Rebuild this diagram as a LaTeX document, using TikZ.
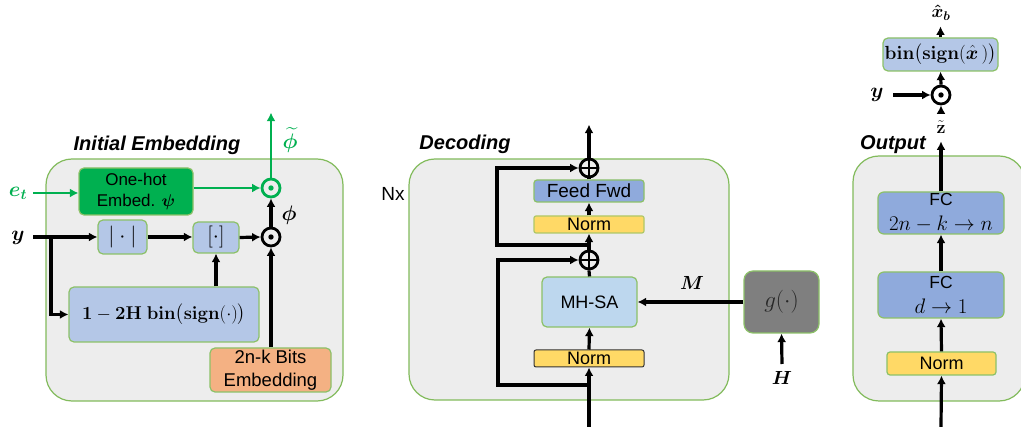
\documentclass[tikz,border=0pt]{standalone}
\usepackage{fix-cm}
\usepackage{amsmath,bm}
\usepackage[no-math]{fontspec}
\setmainfont{Liberation Sans}
\usetikzlibrary{arrows.meta,calc}
\definecolor{bggray}{HTML}{EDEDED}
\definecolor{gborder}{HTML}{8CC168}
\definecolor{fborder}{HTML}{82BB5C}
\definecolor{onehot}{HTML}{00B050}
\definecolor{lblue}{HTML}{B4C7E7}
\definecolor{mhsacol}{HTML}{BDD7EE}
\definecolor{mblue}{HTML}{8FAADC}
\definecolor{yel}{HTML}{FFD966}
\definecolor{orng}{HTML}{F4B183}
\definecolor{gcol}{HTML}{7F7F7F}
\definecolor{gtext}{HTML}{262626}
\tikzset{
  frame/.style={draw=fborder, line width=1.2pt, fill=bggray, rounded corners=26pt, inner sep=0pt},
  blk/.style={draw=gborder, line width=1.2pt, rounded corners=5pt, inner sep=0pt, align=center, text=black},
  ttl/.style={font=\fontsize{20}{22}\selectfont\bfseries\itshape, inner sep=0pt},
  lbl/.style={font=\fontsize{21}{22}\selectfont, inner sep=0pt},
  arr/.style={line width=3.2pt, -{Latex[length=8.5pt,width=9pt]}},
  ln/.style={line width=3.2pt},
  garr/.style={arr, line width=2.8pt, draw=onehot},
  opc/.style={circle, draw, line width=2.8pt, minimum size=18pt, inner sep=0pt, fill=bggray,
    path picture={\draw[black, line width=2.6pt] (path picture bounding box.north) -- (path picture bounding box.south)
      (path picture bounding box.west) -- (path picture bounding box.east);}},
  odc/.style={circle, draw, line width=2.8pt, minimum size=18pt, inner sep=0pt, fill=bggray,
    path picture={\fill[black] (path picture bounding box.center) circle (2.7pt);}},
}
\begin{document}
\begin{tikzpicture}[x=1pt,y=-1pt]
\useasboundingbox (0,0) rectangle (1021,427);
\clip (0,0) rectangle (1021,427);
\fill[white] (0,0) rectangle (1021,427);
% frames
\node[frame, minimum width=297pt, minimum height=242pt] (ie) at (194.5,280) {};
\node[frame, minimum width=320pt, minimum height=241pt] (dec) at (569,279.5) {};
\node[frame, minimum width=172pt, minimum height=245pt] (out) at (939,278.5) {};
\node[ttl] (tie) at (157,145) {Initial Embedding};
\node[ttl] (tdec) at (465,144) {Decoding};
\node[ttl] (tout) at (893,145) {Output};

% ---------- Initial embedding ----------
\node[blk, fill=onehot, minimum width=114pt, minimum height=47pt, font=\fontsize{17}{21}\selectfont] (oh) at (136,191.5) {One-hot\\Embed. $\bm{\psi}$};
\node[blk, fill=lblue, minimum width=49pt, minimum height=34pt, font=\fontsize{22}{22}\selectfont] (abs) at (122.5,237) {$|\cdot|$};
\node[blk, fill=lblue, minimum width=46pt, minimum height=31pt, font=\fontsize{22}{22}\selectfont] (rnd) at (216,237.5) {$[\cdot]$};
\node[blk, fill=lblue, minimum width=190pt, minimum height=55pt, font=\fontsize{18.5}{20}\selectfont] (hb) at (164,314.5) {$\mathbf{1-2H\;bin}\big(\mathbf{sign}(\cdot)\big)$};
\node[blk, fill=orng, minimum width=121pt, minimum height=44pt, font=\fontsize{18.5}{23}\selectfont] (bits) at (270.5,370) {2n-k Bits\\Embedding};
\node[odc] (od1) at (271,237) {};
\node[odc, draw=onehot, fill=bggray, path picture={\fill[onehot] (path picture bounding box.center) circle (2.7pt);}] (og) at (271,188) {};
\node[lbl, text=onehot] (et) at (18,193) {$\bm{e_t}$};
\node[lbl] (yl) at (18,238) {$\bm{y}$};
\node[lbl] (phi) at (289,215) {$\bm{\phi}$};
\node[lbl, text=onehot] (phit) at (290,140) {$\bm{\widetilde{\phi}}$};
\coordinate (etst) at (33,193);
\coordinate (yst) at (33,237);
\coordinate (ybr) at (51,237);
\draw[garr] (etst) -- (oh.west |- etst);
\draw[arr] (yst) -- (abs.west);
\draw[arr] (ybr) |- (hb.west);
\draw[arr] (abs.east) -- (rnd.west |- abs.east);
\draw[arr] (rnd.east) -- (od1.west);
\draw[arr] (hb.north -| rnd) -- (rnd.south);
\draw[arr] (bits.north -| od1) -- (od1.south);
\draw[arr] (od1.north) -- (og.south);
\draw[garr] (oh.east |- og) -- (og.west);
\draw[garr] (og.north) -- ++(0,-65);

% ---------- Decoding ----------
\node[blk, draw=black!80, line width=1pt, rounded corners=2pt, fill=yel, minimum width=110pt, minimum height=17pt, font=\fontsize{18}{18}\selectfont] (n1) at (589,358.5) {Norm};
\node[blk, fill=mhsacol, minimum width=95pt, minimum height=50pt, font=\fontsize{18}{20}\selectfont] (mh) at (589.5,302) {MH-SA};
\node[opc] (op1) at (589,260) {};
\node[blk, draw=gborder!70!yel, rounded corners=2pt, fill=yel, minimum width=110pt, minimum height=17pt, font=\fontsize{18}{18}\selectfont] (n2) at (589,224.5) {Norm};
\node[blk, fill=mblue, rounded corners=3pt, minimum width=110pt, minimum height=22pt, font=\fontsize{19}{19}\selectfont] (ff) at (589,191) {Feed Fwd};
\node[opc] (op2) at (589,168) {};
\node[font=\fontsize{19}{20}\selectfont, inner sep=0pt] (nx) at (393,194) {Nx};
\node[blk, fill=gcol, rounded corners=9pt, minimum width=75pt, minimum height=62pt, font=\fontsize{23}{24}\selectfont, text=gtext] (g) at (781.5,302) {$g(\cdot)$};
\node[lbl, font=\fontsize{19}{20}\selectfont] (ml) at (692,283) {$\bm{M}$};
\node[lbl, font=\fontsize{19}{20}\selectfont] (hl) at (782,378) {$\bm{H}$};
\coordinate (din) at (589,427);
\coordinate (b1) at (589,385);
\coordinate (b2) at (589,245);
\coordinate (hin) at (782,364);
\draw[arr] (din) -- (n1.south);
\draw[arr] (n1.north) -- (mh.south);
\draw[ln] (mh.north) -- (op1.south);
\draw[arr] (op1.north) -- (n2.south);
\draw[arr] (n2.north) -- (ff.south);
\draw[ln] (ff.north) -- (op2.south);
\draw[arr] (op2.north) -- ++(0,-33);
\draw[arr] (b1) -- ++(-91,0) |- (op1.west);
\draw[arr] (b2) -- ++(-92,0) |- (op2.west);
\draw[arr] (g.west) -- (mh.east |- g.west);
\draw[arr] (hin) -- (g.south);

% ---------- Output ----------
\node[blk, fill=yel, rounded corners=3pt, minimum width=109pt, minimum height=23pt, font=\fontsize{18}{18}\selectfont] (on) at (941.5,363.5) {Norm};
\node[blk, fill=mblue, rounded corners=6pt, minimum width=126pt, minimum height=46pt, font=\fontsize{17.5}{25}\selectfont] (fc1) at (941,295) {FC\\\fontsize{21}{25}\selectfont$d\to 1$};
\node[blk, fill=mblue, rounded corners=6pt, minimum width=126pt, minimum height=42pt, font=\fontsize{17.5}{25}\selectfont] (fc2) at (941,213) {FC\\\fontsize{21}{25}\selectfont$2n-k\to n$};
\node[odc, fill=white] (od2) at (941,95) {};
\node[blk, fill=lblue, rounded corners=5pt, minimum width=115pt, minimum height=33pt, font=\fontsize{19}{20}\selectfont] (bin) at (940.5,54.5) {$\mathbf{bin}\big(\mathbf{sign}(\hat{\bm{x}}\,)\big)$};
\node[lbl, font=\fontsize{18}{18}\selectfont] (zl) at (941,127) {$\tilde{\mathbf{z}}$};
\node[lbl] (y2) at (877,95) {$\bm{y}$};
\node[lbl, font=\fontsize{18}{18}\selectfont] (xb) at (941,13) {$\bm{\hat{x}_b}$};
\coordinate (oin) at (941,427);
\coordinate (zt) at (941,113);
\coordinate (y2s) at (893,95);
\draw[arr] (oin) -- (on.south);
\draw[arr] (on.north) -- (fc1.south);
\draw[arr] (fc1.north) -- (fc2.south);
\draw[arr] (fc2.north) -- ++(0,-50);
\draw[arr] (zt) -- (od2.south);
\draw[arr] (y2s) -- (od2.west);
\draw[arr] (od2.north) -- (bin.south);
\draw[arr] (bin.north) -- ++(0,-11);
\end{tikzpicture}
\end{document}
